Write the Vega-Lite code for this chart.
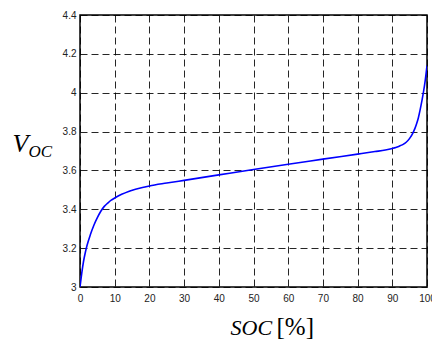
{
  "$schema": "https://vega.github.io/schema/vega-lite/v6.json",
  "width": 347,
  "height": 272,
  "autosize": {"type": "none"},
  "padding": {"left": 80, "top": 15, "right": 5, "bottom": 52},
  "background": "white",
  "config": {
    "view": {"stroke": "black", "strokeWidth": 1.5},
    "axis": {
      "labelFont": "Liberation Sans",
      "labelFontSize": 10,
      "labelColor": "#222",
      "titleFont": "Liberation Serif",
      "titleFontWeight": "normal",
      "titleColor": "black"
    }
  },
  "data": {
    "values": [
      {"soc": 0, "v": 3.0},
      {"soc": 0.5, "v": 3.07},
      {"soc": 1, "v": 3.13},
      {"soc": 1.5, "v": 3.175},
      {"soc": 2, "v": 3.212},
      {"soc": 3, "v": 3.27},
      {"soc": 4, "v": 3.318},
      {"soc": 5, "v": 3.357},
      {"soc": 6, "v": 3.39},
      {"soc": 7, "v": 3.415},
      {"soc": 8, "v": 3.432},
      {"soc": 9, "v": 3.447},
      {"soc": 10, "v": 3.458},
      {"soc": 12, "v": 3.477},
      {"soc": 14, "v": 3.492},
      {"soc": 16, "v": 3.503},
      {"soc": 18, "v": 3.512},
      {"soc": 20, "v": 3.52},
      {"soc": 25, "v": 3.535},
      {"soc": 30, "v": 3.549},
      {"soc": 40, "v": 3.577},
      {"soc": 50, "v": 3.605},
      {"soc": 60, "v": 3.632},
      {"soc": 70, "v": 3.658},
      {"soc": 80, "v": 3.684},
      {"soc": 85, "v": 3.697},
      {"soc": 88, "v": 3.705},
      {"soc": 90, "v": 3.713},
      {"soc": 91, "v": 3.718},
      {"soc": 92, "v": 3.725},
      {"soc": 93, "v": 3.733},
      {"soc": 94, "v": 3.745},
      {"soc": 95, "v": 3.765},
      {"soc": 96, "v": 3.795},
      {"soc": 96.5, "v": 3.815},
      {"soc": 97, "v": 3.84},
      {"soc": 97.5, "v": 3.87},
      {"soc": 98, "v": 3.91},
      {"soc": 98.5, "v": 3.955},
      {"soc": 99, "v": 4.005},
      {"soc": 99.5, "v": 4.065},
      {"soc": 100, "v": 4.14}
    ]
  },
  "layer": [
    {
      "mark": {"type": "line", "color": "#0000ff", "strokeWidth": 1.6, "interpolate": "monotone", "clip": true},
      "encoding": {
        "x": {
          "field": "soc", "type": "quantitative",
          "scale": {"domain": [0, 100], "nice": false, "zero": false},
          "axis": {
            "orient": "bottom",
            "values": [0, 10, 20, 30, 40, 50, 60, 70, 80, 90, 100],
            "grid": true, "gridColor": "black", "gridDash": [7, 4], "gridWidth": 1, "gridOpacity": 0.85,
            "ticks": false, "domain": false, "labelPadding": 6, "labelFlush": false,
            "title": "SOC", "titleFontStyle": "italic", "titleFontSize": 22,
            "titleAlign": "left", "titleBaseline": "alphabetic", "titleAnchor": null,
            "titleX": 150, "titleY": 47, "titleAngle": 0
          }
        },
        "y": {
          "field": "v", "type": "quantitative",
          "scale": {"domain": [3, 4.4], "nice": false, "zero": false},
          "axis": {
            "orient": "left",
            "values": [3, 3.2, 3.4, 3.6, 3.8, 4, 4.2, 4.4],
            "format": "~g",
            "grid": true, "gridColor": "black", "gridDash": [7, 4], "gridWidth": 1, "gridOpacity": 0.85,
            "ticks": false, "domain": false, "labelPadding": 4, "labelFlush": false,
            "title": "V", "titleFontStyle": "italic", "titleFontSize": 26,
            "titleAlign": "left", "titleBaseline": "alphabetic", "titleAngle": 0,
            "titleX": -68, "titleY": 136
          }
        }
      }
    },
    {
      "mark": {"type": "line", "opacity": 0},
      "encoding": {
        "x": {
          "field": "soc", "type": "quantitative",
          "axis": {
            "orient": "bottom",
            "labels": false, "ticks": false, "domain": false, "grid": false,
            "title": "[%]", "titleFontSize": 25,
            "titleAlign": "left", "titleBaseline": "alphabetic", "titleAngle": 0,
            "titleX": 196, "titleY": 47
          }
        },
        "y": {
          "field": "v", "type": "quantitative",
          "axis": {
            "orient": "left",
            "labels": false, "ticks": false, "domain": false, "grid": false,
            "title": "OC", "titleFontStyle": "italic", "titleFontSize": 17,
            "titleAlign": "left", "titleBaseline": "alphabetic", "titleAngle": 0,
            "titleX": -52, "titleY": 141
          }
        }
      }
    }
  ],
  "resolve": {"axis": {"x": "independent", "y": "independent"}}
}
